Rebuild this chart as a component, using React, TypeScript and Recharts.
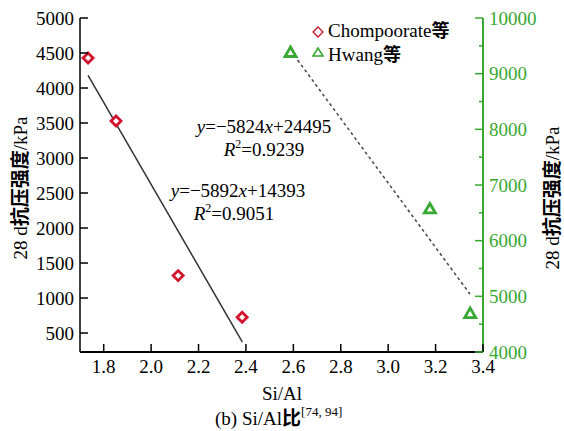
import React from "react";
import { ScatterChart, Scatter, XAxis, YAxis } from "recharts";

// Chompoorate et al. (left axis)
const chompoorate = [
  { x: 1.734, y: 4430 },
  { x: 1.852, y: 3530 },
  { x: 2.114, y: 1320 },
  { x: 2.384, y: 725 },
];
// Hwang et al. (right axis)
const hwang = [
  { x: 2.588, y: 9380 },
  { x: 3.176, y: 6570 },
  { x: 3.346, y: 4690 },
];
// fitted line end points
const fitLeft = [
  { x: 1.734, y: 4180 },
  { x: 2.385, y: 370 },
];
const fitRight = [
  { x: 2.618, y: 9245 },
  { x: 3.345, y: 5040 },
];

const xTicks = [1.8, 2.0, 2.2, 2.4, 2.6, 2.8, 3.0, 3.2, 3.4];
const leftTicks = [500, 1000, 1500, 2000, 2500, 3000, 3500, 4000, 4500, 5000];
const rightTicks = [4000, 4500, 5000, 5500, 6000, 6500, 7000, 7500, 8000, 8500, 9000, 9500, 10000];

const FONT = "'Liberation Serif', 'Times New Roman', Times, serif";
const CJK = "'Noto Sans CJK SC', sans-serif";
const RED = "#d0122c";
const GREEN = "#38a832";
const M = 6;

const serif = { fontFamily: FONT };
const cjk = { fontFamily: CJK, fontWeight: 700 };

const LeftTick = (props: any) => {
  const { x, y, payload } = props;
  return (
    <g>
      <line x1={x + M} x2={x + M + 8} y1={y} y2={y} stroke="#000" strokeWidth={1.5} />
      <text x={x} y={y} dy="0.35em" textAnchor="end" fontSize={19} style={serif} fill="#000">
        {payload.value}
      </text>
    </g>
  );
};

const RightTick = (props: any) => {
  const { x, y, payload } = props;
  const major = payload.value % 1000 === 0;
  return (
    <g>
      <line x1={x - M} x2={x - M - (major ? 8 : 4)} y1={y} y2={y} stroke={GREEN} strokeWidth={1.5} />
      {major && (
        <text x={x} y={y} dy="0.35em" textAnchor="start" fontSize={19} style={serif} fill={GREEN}>
          {payload.value}
        </text>
      )}
    </g>
  );
};

const BottomTick = (props: any) => {
  const { x, y, payload } = props;
  return (
    <g>
      <line x1={x} x2={x} y1={y - M} y2={y - M - 8} stroke="#000" strokeWidth={1.5} />
      <text x={x} y={y} dy="0.8em" textAnchor="middle" fontSize={19} style={serif} fill="#000">
        {Number(payload.value).toFixed(1)}
      </text>
    </g>
  );
};

const Diamond = (props: any) => {
  const { cx, cy } = props;
  const r = 5;
  return (
    <polygon
      points={`${cx},${cy - r} ${cx + r},${cy} ${cx},${cy + r} ${cx - r},${cy}`}
      fill="#fff"
      stroke={RED}
      strokeWidth={2.8}
    />
  );
};

const Triangle = (props: any) => {
  const { cx, cy } = props;
  return (
    <polygon
      points={`${cx},${cy - 5.5} ${cx + 5.5},${cy + 4} ${cx - 5.5},${cy + 4}`}
      fill="#fff"
      stroke={GREEN}
      strokeWidth={2.8}
    />
  );
};

const NoDot = () => <g />;

export default function App() {
  return (
    <div style={{ position: "absolute", left: 0, top: 0, width: 564, height: 431, background: "#fff", fontFamily: FONT }}>
      <ScatterChart width={564} height={431} margin={{ top: 18, right: 0, left: 0, bottom: 0 }}>
        <XAxis
          type="number"
          dataKey="x"
          domain={[1.7, 3.4]}
          ticks={xTicks}
          interval={0}
          height={79}
          tickSize={0}
          tickMargin={M}
          tick={BottomTick}
          axisLine={{ stroke: "#000", strokeWidth: 2 }}
          allowDataOverflow
        />
        <YAxis
          yAxisId="left"
          type="number"
          dataKey="y"
          domain={[229, 5000]}
          ticks={leftTicks}
          interval={0}
          width={80}
          tickSize={0}
          tickMargin={M}
          tick={LeftTick}
          axisLine={{ stroke: "#000", strokeWidth: 1.5 }}
          allowDataOverflow
        />
        <YAxis
          yAxisId="right"
          orientation="right"
          type="number"
          dataKey="y"
          domain={[4000, 10000]}
          ticks={rightTicks}
          interval={0}
          width={81}
          tickSize={0}
          tickMargin={M}
          tick={RightTick}
          axisLine={{ stroke: GREEN, strokeWidth: 2 }}
          allowDataOverflow
        />
        <Scatter
          yAxisId="left"
          data={fitLeft}
          line={{ stroke: "#333", strokeWidth: 1.5 }}
          lineType="joint"
          shape={NoDot}
          isAnimationActive={false}
        />
        <Scatter
          yAxisId="right"
          data={fitRight}
          line={{ stroke: "#444", strokeWidth: 1.5, strokeDasharray: "3 3" }}
          lineType="joint"
          shape={NoDot}
          isAnimationActive={false}
        />
        <Scatter yAxisId="left" data={chompoorate} shape={Diamond} isAnimationActive={false} />
        <Scatter yAxisId="right" data={hwang} shape={Triangle} isAnimationActive={false} />
      </ScatterChart>

      <svg
        width={564}
        height={431}
        style={{ position: "absolute", left: 0, top: 0, pointerEvents: "none", fontFamily: FONT }}
      >
        {/* legend */}
        <polygon points="318,27 323,32 318,37 313,32" fill="none" stroke={RED} strokeWidth={1.3} />
        <text x={328} y={37} fontSize={19} fill="#000">
          Chompoorate<tspan style={cjk} fontSize={18}>等</tspan>
        </text>
        <polygon points="318,48 323,56 313,56" fill="none" stroke={GREEN} strokeWidth={1.6} />
        <text x={328} y={61} fontSize={19} fill="#000">
          Hwang<tspan style={cjk} fontSize={18}>等</tspan>
        </text>

        {/* regression equations */}
        <text x={264} y={133} fontSize={19} textAnchor="middle" fill="#000">
          <tspan fontStyle="italic">y</tspan>=−5824<tspan fontStyle="italic">x</tspan>+24495
        </text>
        <text x={264} y={156} fontSize={19} textAnchor="middle" fill="#000">
          <tspan fontStyle="italic">R</tspan>
          <tspan fontSize={12} dy={-8}>2</tspan>
          <tspan dy={8}>=0.9239</tspan>
        </text>
        <text x={238} y={197} fontSize={19} textAnchor="middle" fill="#000">
          <tspan fontStyle="italic">y</tspan>=−5892<tspan fontStyle="italic">x</tspan>+14393
        </text>
        <text x={234} y={220} fontSize={19} textAnchor="middle" fill="#000">
          <tspan fontStyle="italic">R</tspan>
          <tspan fontSize={12} dy={-8}>2</tspan>
          <tspan dy={8}>=0.9051</tspan>
        </text>

        {/* axis titles */}
        <text transform="translate(27,188) rotate(-90)" fontSize={19} textAnchor="middle" fill="#000">
          28 d<tspan style={cjk}>抗压强度</tspan>/kPa
        </text>
        <text transform="translate(559,198) rotate(-90)" fontSize={19} textAnchor="middle" fill="#000">
          28 d<tspan style={cjk}>抗压强度</tspan>/kPa
        </text>
        <text x={282} y={400} fontSize={19} textAnchor="middle" fill="#000">Si/Al</text>
        <text x={215} y={425} fontSize={19} fill="#000">
          (b) Si/Al<tspan style={cjk}>比</tspan>
          <tspan fontSize={13} dy={-9}>[74, 94]</tspan>
        </text>
      </svg>
    </div>
  );
}
